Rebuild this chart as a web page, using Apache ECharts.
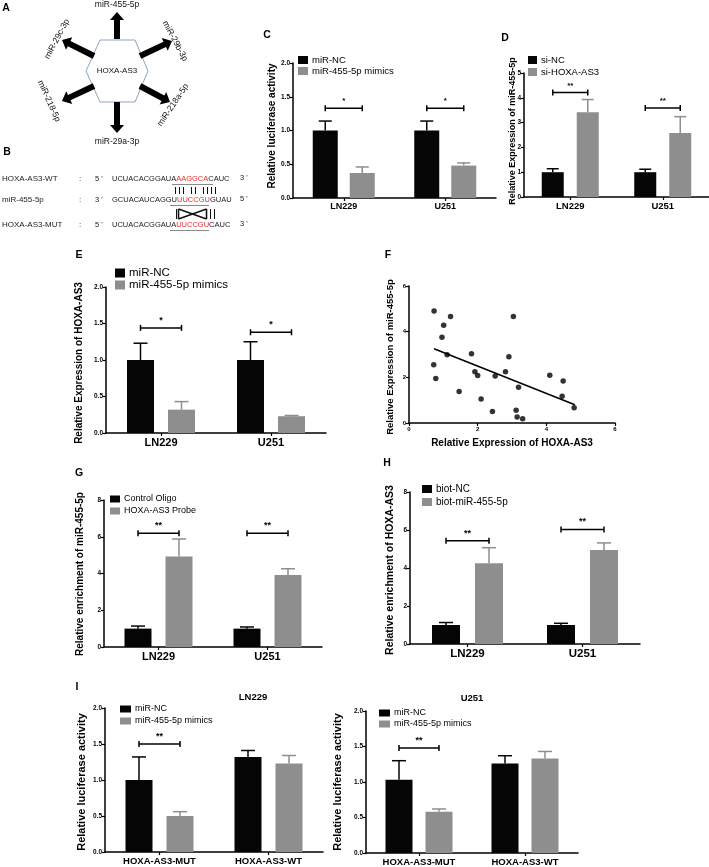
<!DOCTYPE html>
<html><head><meta charset="utf-8">
<script src="https://cdn.jsdelivr.net/npm/echarts@6/dist/echarts.min.js"></script>
<style>html,body{margin:0;padding:0;background:#fff}#c{width:709px;height:867px}</style>
</head><body><div id="c"></div>
<script>
// ================= DATA =================
const cellLines = ['LN229', 'U251'];
const reporterCats = ['HOXA-AS3-MUT', 'HOXA-AS3-WT'];

// Panel C
const cNames = ['miR-NC', 'miR-455-5p mimics'];
const cYTicks = [0, 0.5, 1.0, 1.5, 2.0];
const cNC = [1.00, 1.00];
const cNCTop = [1.14, 1.14];
const cMimic = [0.37, 0.48];
const cMimicTop = [0.46, 0.52];
const cSigLevel = [1.33, 1.33];
const cSig = ['*', '*'];

// Panel D
const dNames = ['si-NC', 'si-HOXA-AS3'];
const dYTicks = [0, 1, 2, 3, 4, 5];
const dNC = [1.00, 1.00];
const dNCTop = [1.14, 1.12];
const dSi = [3.42, 2.58];
const dSiTop = [3.93, 3.24];
const dSigLevel = [4.21, 3.59];
const dSig = ['**', '**'];

// Panel E
const eNames = ['miR-NC', 'miR-455-5p mimics'];
const eYTicks = [0, 0.5, 1.0, 1.5, 2.0];
const eNC = [1.00, 1.00];
const eNCTop = [1.23, 1.25];
const eMimic = [0.32, 0.23];
const eMimicTop = [0.43, 0.24];
const eSigLevel = [1.44, 1.38];
const eSig = ['*', '*'];

// Panel F (scatter)
const fTicks = [0, 2, 4, 6];
const fX = [0.73, 1.01, 1.21, 0.96, 1.11, 0.72, 0.78, 1.46, 1.82, 1.92, 2.00, 2.10, 2.51, 2.43, 2.81, 2.91, 3.04, 3.19, 3.12, 3.15, 3.31, 4.10, 4.49, 4.46, 4.81];
const fY = [4.90, 4.28, 4.66, 3.76, 2.99, 2.55, 1.95, 1.38, 3.03, 2.25, 2.08, 1.05, 2.06, 0.50, 2.24, 2.90, 4.66, 1.57, 0.56, 0.26, 0.19, 2.09, 1.84, 1.17, 0.67];
const fFitX = [0.73, 4.83];
const fFitY = [3.25, 0.80];

// Panel G
const gNames = ['Control Oligo', 'HOXA-AS3 Probe'];
const gYTicks = [0, 2, 4, 6, 8];
const gCtrl = [1.00, 1.00];
const gCtrlTop = [1.14, 1.09];
const gProbe = [4.92, 3.92];
const gProbeTop = [5.88, 4.26];
const gSigLevel = [6.19, 6.19];
const gSig = ['**', '**'];

// Panel H
const hNames = ['biot-NC', 'biot-miR-455-5p'];
const hYTicks = [0, 2, 4, 6, 8];
const hNC = [1.00, 1.00];
const hNCTop = [1.13, 1.09];
const hBiot = [4.25, 4.95];
const hBiotTop = [5.07, 5.32];
const hSigLevel = [5.43, 6.03];
const hSig = ['**', '**'];

// Panel I (LN229 / U251 reporter)
const iNames = ['miR-NC', 'miR-455-5p mimics'];
const iYTicks = [0, 0.5, 1.0, 1.5, 2.0];
const iLNC = [1.00, 1.32];
const iLNCTop = [1.32, 1.41];
const iLMimic = [0.50, 1.23];
const iLMimicTop = [0.56, 1.34];
const iLSigLevel = [1.50, null];
const iLSig = ['**', ''];
const iUNC = [1.03, 1.26];
const iUNCTop = [1.30, 1.37];
const iUMimic = [0.58, 1.33];
const iUMimicTop = [0.62, 1.43];
const iUSigLevel = [1.48, null];
const iUSig = ['**', ''];

// Panel A / B texts
const mirTargets = ['miR-455-5p', 'miR-29c-3p', 'miR-29b-3p', 'miR-218a-5p', 'miR-218-5p', 'miR-29a-3p'];
const seqRows = [
  { label: 'HOXA-AS3-WT', e5: "5 '", seq: ['UCUACACGGAUA', 'AAGGCA', 'CAUC'], e3: "3 '" },
  { label: 'miR-455-5p', e5: "3 '", seq: ['GCUACAUCAGGU', 'UUCCGU', 'GUAU'], e3: "5 '" },
  { label: 'HOXA-AS3-MUT', e5: "5 '", seq: ['UCUACACGGAUA', 'UUCCGU', 'CAUC'], e3: "3 '" }
];

// ================= STYLE / BUILD =================
const FONT = '"Liberation Sans", Arial, Helvetica, sans-serif';
const BLACK = '#050505', GRAY = '#8e8e8e';
const chart = echarts.init(document.getElementById('c'), null, { renderer: 'canvas' });
const opt = { animation: false, backgroundColor: '#ffffff', grid: [], xAxis: [], yAxis: [], series: [], legend: [], graphic: { elements: [] } };
const G = opt.graphic.elements;

function txt(x, y, text, o) {
  o = o || {};
  G.push({
    type: 'text', x: x, y: y, rotation: (o.rot || 0) * Math.PI / 180, silent: true, z: 10,
    style: {
      text: text, x: 0, y: 0, fill: o.color || '#000', fontSize: o.size || 8, fontWeight: o.weight || 'normal', fontFamily: FONT,
      align: o.align || 'center', verticalAlign: o.va || 'middle', textAlign: o.align || 'center', textVerticalAlign: o.va || 'middle',
      rich: o.rich
    }
  });
}
function line(x1, y1, x2, y2, color, w) {
  G.push({ type: 'line', silent: true, shape: { x1: x1, y1: y1, x2: x2, y2: y2 }, style: { stroke: color || '#000', lineWidth: w || 1 } });
}
function arrow(x0, y0, x1, y1) {
  const sw = 6, hw = 14, hl = 8;
  const dx = x1 - x0, dy = y1 - y0, L = Math.hypot(dx, dy), ux = dx / L, uy = dy / L, nx = -uy, ny = ux;
  const bx = x1 - ux * hl, by = y1 - uy * hl;
  G.push({ type: 'polygon', silent: true, shape: { points: [
    [x0 + nx * sw / 2, y0 + ny * sw / 2], [bx + nx * sw / 2, by + ny * sw / 2], [bx + nx * hw / 2, by + ny * hw / 2], [x1, y1],
    [bx - nx * hw / 2, by - ny * hw / 2], [bx - nx * sw / 2, by - ny * sw / 2], [x0 - nx * sw / 2, y0 - ny * sw / 2]] },
    style: { fill: '#000' } });
}

function axisCommon() {
  return {
    axisLine: { show: true, lineStyle: { color: '#000', width: 1.5 } },
    axisTick: { show: true, length: 3, lineStyle: { color: '#000', width: 1.2 } },
    splitLine: { show: false }
  };
}

function errSeries(gi, mean, top, dx, color, cap) {
  return {
    type: 'custom', xAxisIndex: gi, yAxisIndex: gi, silent: true, z: 3,
    data: mean.map((m, i) => [i, m, top[i]]),
    renderItem: function (params, api) {
      const i = api.value(0);
      const c = api.coord([i, api.value(1)]);
      const t = api.coord([i, api.value(2)]);
      const x = c[0] + dx;
      return { type: 'group', children: [
        { type: 'line', shape: { x1: x, y1: c[1], x2: x, y2: t[1] }, style: { stroke: color, lineWidth: 1.5 } },
        { type: 'line', shape: { x1: x - cap / 2, y1: t[1], x2: x + cap / 2, y2: t[1] }, style: { stroke: color, lineWidth: 1.5 } }
      ] };
    }
  };
}
function sigSeries(gi, levels, stars, off, size) {
  const data = [];
  levels.forEach((l, i) => { if (l != null) data.push([i, l]); });
  return {
    type: 'custom', xAxisIndex: gi, yAxisIndex: gi, silent: true, z: 4, data: data,
    renderItem: function (params, api) {
      const i = api.value(0);
      const p = api.coord([i, api.value(1)]);
      const x1 = p[0] - off, x2 = p[0] + off, y = p[1];
      return { type: 'group', children: [
        { type: 'line', shape: { x1: x1, y1: y, x2: x2, y2: y }, style: { stroke: '#000', lineWidth: 1.5 } },
        { type: 'line', shape: { x1: x1, y1: y - 3, x2: x1, y2: y + 3 }, style: { stroke: '#000', lineWidth: 1.5 } },
        { type: 'line', shape: { x1: x2, y1: y - 3, x2: x2, y2: y + 3 }, style: { stroke: '#000', lineWidth: 1.5 } },
        { type: 'text', x: p[0], y: y - 3, style: { text: stars[i], fill: '#000', fontSize: size, fontWeight: 'bold', fontFamily: FONT, align: 'center', verticalAlign: 'bottom', textAlign: 'center', textVerticalAlign: 'bottom' } }
      ] };
    }
  };
}

function barPanel(p) {
  const gi = opt.grid.length;
  opt.grid.push({ left: p.box[0], top: p.box[1], width: p.box[2], height: p.box[3] });
  opt.xAxis.push(Object.assign(axisCommon(), {
    type: 'category', gridIndex: gi, data: p.cats,
    axisTick: { show: true, alignWithLabel: true, length: 3, lineStyle: { color: '#000', width: 1.2 } },
    axisLabel: { color: '#000', fontWeight: 'bold', fontSize: p.catFont, fontFamily: FONT, margin: 4, interval: 0 }
  }));
  const t = p.yTicks;
  opt.yAxis.push(Object.assign(axisCommon(), {
    type: 'value', gridIndex: gi, min: t[0], max: t[t.length - 1], interval: t[1] - t[0],
    axisLabel: { color: '#000', fontWeight: 'bold', fontSize: p.tickFont || 6.5, fontFamily: FONT, margin: 3, formatter: v => v.toFixed(p.dec) }
  }));
  const off = (p.barW + p.gap) / 2;
  opt.series.push({ type: 'bar', name: p.names[0], xAxisIndex: gi, yAxisIndex: gi, data: p.a, barWidth: p.barW, barGap: (100 * p.gap / p.barW) + '%', itemStyle: { color: BLACK }, silent: true, z: 2 });
  opt.series.push({ type: 'bar', name: p.names[1], xAxisIndex: gi, yAxisIndex: gi, data: p.b, barWidth: p.barW, barGap: (100 * p.gap / p.barW) + '%', itemStyle: { color: GRAY }, silent: true, z: 2 });
  opt.series.push(errSeries(gi, p.a, p.aTop, -off, BLACK, p.cap));
  opt.series.push(errSeries(gi, p.b, p.bTop, off, GRAY, p.cap));
  opt.series.push(sigSeries(gi, p.sigLevel, p.sig, off, p.starFont || 9));
  const L = p.legend;
  opt.legend.push({
    data: p.names, orient: 'vertical', left: L.left, top: L.top, padding: 0, itemGap: 0, itemWidth: L.iw, itemHeight: L.ih,
    icon: 'rect', selectedMode: false,
    textStyle: { color: '#000', fontSize: L.font, fontFamily: FONT, lineHeight: L.row, padding: [0, 0, 0, -1] }
  });
  txt(p.yTitle[1], p.yTitle[2], p.yTitle[0], { rot: 90, size: p.yTitle[3], weight: 'bold' });
}

// ---- Panel C
barPanel({ box: [293, 63, 203, 135], cats: cellLines, names: cNames, yTicks: cYTicks, dec: 1,
  a: cNC, aTop: cNCTop, b: cMimic, bTop: cMimicTop, sigLevel: cSigLevel, sig: cSig,
  barW: 25, gap: 12, cap: 13, catFont: 9, starFont: 8,
  legend: { left: 298, top: 54.5, row: 11, iw: 10, ih: 8, font: 9.5 },
  yTitle: ['Relative luciferase activity', 272, 126, 10] });
// ---- Panel D
barPanel({ box: [524, 73, 185, 124], cats: cellLines, names: dNames, yTicks: dYTicks, dec: 0,
  a: dNC, aTop: dNCTop, b: dSi, bTop: dSiTop, sigLevel: dSigLevel, sig: dSig,
  barW: 22, gap: 13, cap: 12, catFont: 9.5, starFont: 8,
  legend: { left: 528, top: 54, row: 12, iw: 9, ih: 8, font: 9.5 },
  yTitle: ['Relative Expression of miR-455-5p', 513, 131, 9] });
// ---- Panel E
barPanel({ box: [106, 287, 220, 146], cats: cellLines, names: eNames, yTicks: eYTicks, dec: 1,
  a: eNC, aTop: eNCTop, b: eMimic, bTop: eMimicTop, sigLevel: eSigLevel, sig: eSig,
  barW: 27, gap: 14, cap: 14, catFont: 11, starFont: 9,
  legend: { left: 115, top: 267, row: 12, iw: 10, ih: 9, font: 11.5 },
  yTitle: ['Relative Expression of HOXA-AS3', 79, 363, 10] });
// ---- Panel G
barPanel({ box: [104, 500, 218, 147], cats: cellLines, names: gNames, yTicks: gYTicks, dec: 0,
  a: gCtrl, aTop: gCtrlTop, b: gProbe, bTop: gProbeTop, sigLevel: gSigLevel, sig: gSig,
  barW: 27, gap: 14, cap: 14, catFont: 11, starFont: 9,
  legend: { left: 110, top: 493, row: 12, iw: 10, ih: 7, font: 9 },
  yTitle: ['Relative enrichment of miR-455-5p', 80, 574, 10] });
// ---- Panel H
barPanel({ box: [410, 492, 230, 152], cats: cellLines, names: hNames, yTicks: hYTicks, dec: 0,
  a: hNC, aTop: hNCTop, b: hBiot, bTop: hBiotTop, sigLevel: hSigLevel, sig: hSig,
  barW: 28, gap: 15, cap: 14, catFont: 11.5, starFont: 9,
  legend: { left: 422, top: 482.5, row: 13, iw: 10, ih: 8, font: 10 },
  yTitle: ['Relative enrichment of HOXA-AS3', 390, 570, 10.5] });
// ---- Panel I left
barPanel({ box: [105, 708, 218, 144], cats: reporterCats, names: iNames, yTicks: iYTicks, dec: 1,
  a: iLNC, aTop: iLNCTop, b: iLMimic, bTop: iLMimicTop, sigLevel: iLSigLevel, sig: iLSig,
  barW: 27, gap: 14, cap: 14, catFont: 9.5, starFont: 9,
  legend: { left: 120, top: 703, row: 12, iw: 11, ih: 7, font: 9 },
  yTitle: ['Relative luciferase activity', 82, 782, 11] });
// ---- Panel I right
barPanel({ box: [366, 711, 212, 142], cats: reporterCats, names: iNames, yTicks: iYTicks, dec: 1,
  a: iUNC, aTop: iUNCTop, b: iUMimic, bTop: iUMimicTop, sigLevel: iUSigLevel, sig: iUSig,
  barW: 27, gap: 13, cap: 14, catFont: 9.5, starFont: 9,
  legend: { left: 379, top: 707.5, row: 11, iw: 11, ih: 7, font: 9 },
  yTitle: ['Relative luciferase activity', 338, 782, 11] });
txt(253, 697, 'LN229', { size: 9.5, weight: 'bold' });
txt(472, 698, 'U251', { size: 9.5, weight: 'bold' });

// ---- Panel F scatter
(function () {
  const gi = opt.grid.length;
  opt.grid.push({ left: 409, top: 286, width: 206, height: 137 });
  const ax = () => Object.assign(axisCommon(), {
    type: 'value', gridIndex: gi, min: fTicks[0], max: fTicks[fTicks.length - 1], interval: fTicks[1] - fTicks[0],
    axisLabel: { color: '#000', fontWeight: 'bold', fontSize: 6, fontFamily: FONT, margin: 3 }
  });
  opt.xAxis.push(ax());
  opt.yAxis.push(ax());
  opt.series.push({ type: 'scatter', xAxisIndex: gi, yAxisIndex: gi, data: fX.map((x, i) => [x, fY[i]]), symbolSize: 5.5, itemStyle: { color: '#000' }, silent: true, z: 3 });
  opt.series.push({ type: 'line', xAxisIndex: gi, yAxisIndex: gi, data: fFitX.map((x, i) => [x, fFitY[i]]), showSymbol: false, lineStyle: { color: '#000', width: 1.5 }, silent: true, z: 2 });
  txt(390, 357, 'Relative Expression of miR-455-5p', { rot: 90, size: 9.5, weight: 'bold' });
  txt(512, 443, 'Relative Expression of HOXA-AS3', { size: 10, weight: 'bold' });
})();

// ---- Panel letters
[['A', 6, 8], ['B', 7, 152], ['C', 267, 35], ['D', 505, 38], ['E', 79, 255], ['F', 388, 255], ['G', 79, 473], ['H', 387, 463], ['I', 77, 687]]
  .forEach(l => txt(l[1], l[2], l[0], { size: 10.5, weight: 'bold' }));

// ---- Panel A: hexagon + arrows
G.push({ type: 'polygon', silent: true, shape: { points: [[86, 71], [100, 40], [135, 40], [148, 71], [135, 102], [100, 102]] }, style: { fill: '#fff', stroke: '#8ea3c6', lineWidth: 1 } });
txt(117, 71, 'HOXA-AS3', { size: 8, color: '#111' });
arrow(117, 39, 117, 12);
arrow(94, 56, 62, 40);
arrow(140, 56, 172, 41);
arrow(140, 86, 170, 102);
arrow(94, 86, 62, 101);
arrow(117, 102, 117, 133);
txt(117, 5, mirTargets[0], { size: 8.5, color: '#111' });
txt(57, 39, mirTargets[1], { size: 8.5, color: '#111', rot: 62 });
txt(175, 41, mirTargets[2], { size: 8.5, color: '#111', rot: -62 });
txt(173, 105, mirTargets[3], { size: 8.5, color: '#111', rot: 56 });
txt(49, 101, mirTargets[4], { size: 8.5, color: '#111', rot: -66 });
txt(117, 142, mirTargets[5], { size: 8.5, color: '#111' });

// ---- Panel B: sequences
const rowY = [179, 200, 225];
const RED = '#e8302c';
seqRows.forEach((r, k) => {
  const y = rowY[k];
  txt(2, y, r.label, { size: 8, color: '#222', align: 'left' });
  txt(80, y, ':', { size: 8, color: '#222' });
  txt(95, y, r.e5, { size: 7.5, color: '#222', align: 'left' });
  txt(112, y, '{n|' + r.seq[0] + '}{r|' + r.seq[1] + '}{n|' + r.seq[2] + '}', {
    size: 7.5, color: '#222', align: 'left',
    rich: { n: { fill: '#222', fontSize: 7.5, fontFamily: FONT }, r: { fill: RED, fontSize: 7.5, fontFamily: FONT } }
  });
  txt(240, y - 1, r.e3, { size: 7.5, color: '#222', align: 'left' });
});
line(172, 184.5, 213, 184.5, '#8a8a8a', 1);
line(170, 205.5, 209, 205.5, '#8a8a8a', 1);
line(170, 230.5, 209, 230.5, '#8a8a8a', 1);
[0, 1, 2, 4, 5, 7, 8, 9, 10].forEach(j => { const x = 175.5 + j * 4; line(x, 187, x, 194, '#111', 1); });
line(176.5, 209, 176.5, 219, '#111', 1);
line(178.5, 209, 178.5, 219, '#111', 1.6);
line(206.5, 209, 206.5, 219, '#111', 1.6);
line(178.5, 209, 206.5, 219, '#111', 1.6);
line(178.5, 219, 206.5, 209, '#111', 1.6);
line(210.5, 209, 210.5, 219, '#111', 1);
line(214.5, 209, 214.5, 219, '#111', 1);

chart.setOption(opt);
</script></body></html>
